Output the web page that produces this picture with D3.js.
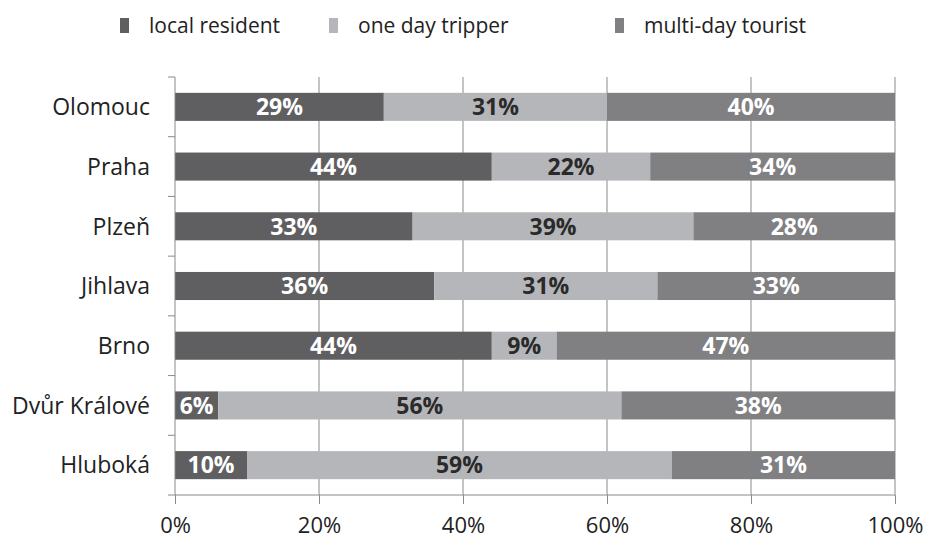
<!DOCTYPE html>
<html>
<head>
<meta charset="utf-8">
<script src="https://cdn.jsdelivr.net/npm/d3@7"></script>
<style>
  body { margin: 0; background: #fff; }
  svg { display: block; font-family: "Open Sans", "DejaVu Sans", sans-serif; }
</style>
</head>
<body>
<svg width="925" height="540"></svg>
<script>
// Data
const cities = ["Olomouc", "Praha", "Plzeň", "Jihlava", "Brno", "Dvůr Králové", "Hluboká"];
const seriesNames = ["local resident", "one day tripper", "multi-day tourist"];
const localResident = [29, 44, 33, 36, 44, 6, 10];
const oneDayTripper = [31, 22, 39, 31, 9, 56, 59];
const multiDayTourist = [40, 34, 28, 33, 47, 38, 31];
const xTicks = [0, 20, 40, 60, 80, 100];

const colors = ["#5f5f61", "#b5b6b9", "#808083"];
const labelColors = ["#ffffff", "#2a2a2a", "#ffffff"];

const svg = d3.select("svg");
const margin = { left: 175, right: 30, top: 77, bottom: 45 };
const width = 925, height = 540;

const x = d3.scaleLinear().domain([0, 100]).range([margin.left, width - margin.right]);
const y = d3.scaleBand().domain(cities).range([margin.top, height - margin.bottom]).paddingInner(0.53).paddingOuter(0.265);

// build rows for stacking
const rows = cities.map((c, i) => ({
    city: c,
    "local resident": localResident[i],
    "one day tripper": oneDayTripper[i],
    "multi-day tourist": multiDayTourist[i]
}));
const stacked = d3.stack().keys(seriesNames)(rows);

// vertical gridlines
svg.append("g")
    .selectAll("line")
    .data(xTicks.slice(1))
    .enter().append("line")
    .attr("x1", d => x(d)).attr("x2", d => x(d))
    .attr("y1", margin.top).attr("y2", height - margin.bottom)
    .attr("stroke", "#8a8a8a").attr("stroke-width", 1);

// bars
const layer = svg.append("g").selectAll("g")
    .data(stacked)
    .enter().append("g")
    .attr("fill", (d, i) => colors[i]);

layer.selectAll("rect")
    .data(d => d)
    .enter().append("rect")
    .attr("x", d => x(d[0]))
    .attr("width", d => x(d[1]) - x(d[0]))
    .attr("y", d => y(d.data.city))
    .attr("height", y.bandwidth());

// value labels
stacked.forEach((s, i) => {
    svg.append("g").selectAll("text")
        .data(s)
        .enter().append("text")
        .attr("x", d => (x(d[0]) + x(d[1])) / 2)
        .attr("y", d => y(d.data.city) + y.bandwidth() / 2)
        .attr("dy", "0.36em")
        .attr("text-anchor", "middle")
        .attr("font-size", 23)
        .attr("font-weight", "bold")
        .attr("fill", labelColors[i])
        .text(d => (d[1] - d[0]) + "%");
});

// x axis
const xAxis = svg.append("g")
    .attr("transform", `translate(0,${height - margin.bottom})`)
    .call(d3.axisBottom(x).tickValues(xTicks).tickFormat(d => d + "%").tickSize(9));
xAxis.select(".domain").attr("stroke", "#8a8a8a").attr("d", `M${x(0)},0H${x(100)}`);
xAxis.selectAll(".tick line").attr("stroke", "#8a8a8a");
xAxis.selectAll("text")
    .attr("y", 38).attr("dy", "0")
    .attr("font-size", 22).attr("fill", "#222")
    .attr("font-family", "Open Sans, sans-serif");

// y axis with ticks between categories
const yAxisG = svg.append("g").attr("transform", `translate(${margin.left},0)`);
yAxisG.append("line")
    .attr("x1", 0).attr("x2", 0)
    .attr("y1", margin.top).attr("y2", height - margin.bottom)
    .attr("stroke", "#8a8a8a");
const step = y.step();
yAxisG.selectAll(".ytick")
    .data(d3.range(cities.length + 1))
    .enter().append("line")
    .attr("x1", -7).attr("x2", 0)
    .attr("y1", i => margin.top + i * step)
    .attr("y2", i => margin.top + i * step)
    .attr("stroke", "#8a8a8a");
yAxisG.selectAll("text")
    .data(cities)
    .enter().append("text")
    .attr("x", -25)
    .attr("y", d => y(d) + y.bandwidth() / 2)
    .attr("dy", "0.36em")
    .attr("text-anchor", "end")
    .attr("font-size", 23)
    .attr("fill", "#222")
    .text(d => d);

// legend
const legendX = [120, 329, 615];
const legend = svg.append("g").selectAll("g")
    .data(seriesNames)
    .enter().append("g")
    .attr("transform", (d, i) => `translate(${legendX[i]},0)`);
legend.append("rect")
    .attr("x", 0).attr("y", 18).attr("width", 9).attr("height", 15)
    .attr("fill", (d, i) => colors[i]);
legend.append("text")
    .attr("x", 29).attr("y", 25).attr("dy", "0.36em")
    .attr("font-size", 21)
    .attr("fill", "#222")
    .text(d => d);
</script>
</body>
</html>
